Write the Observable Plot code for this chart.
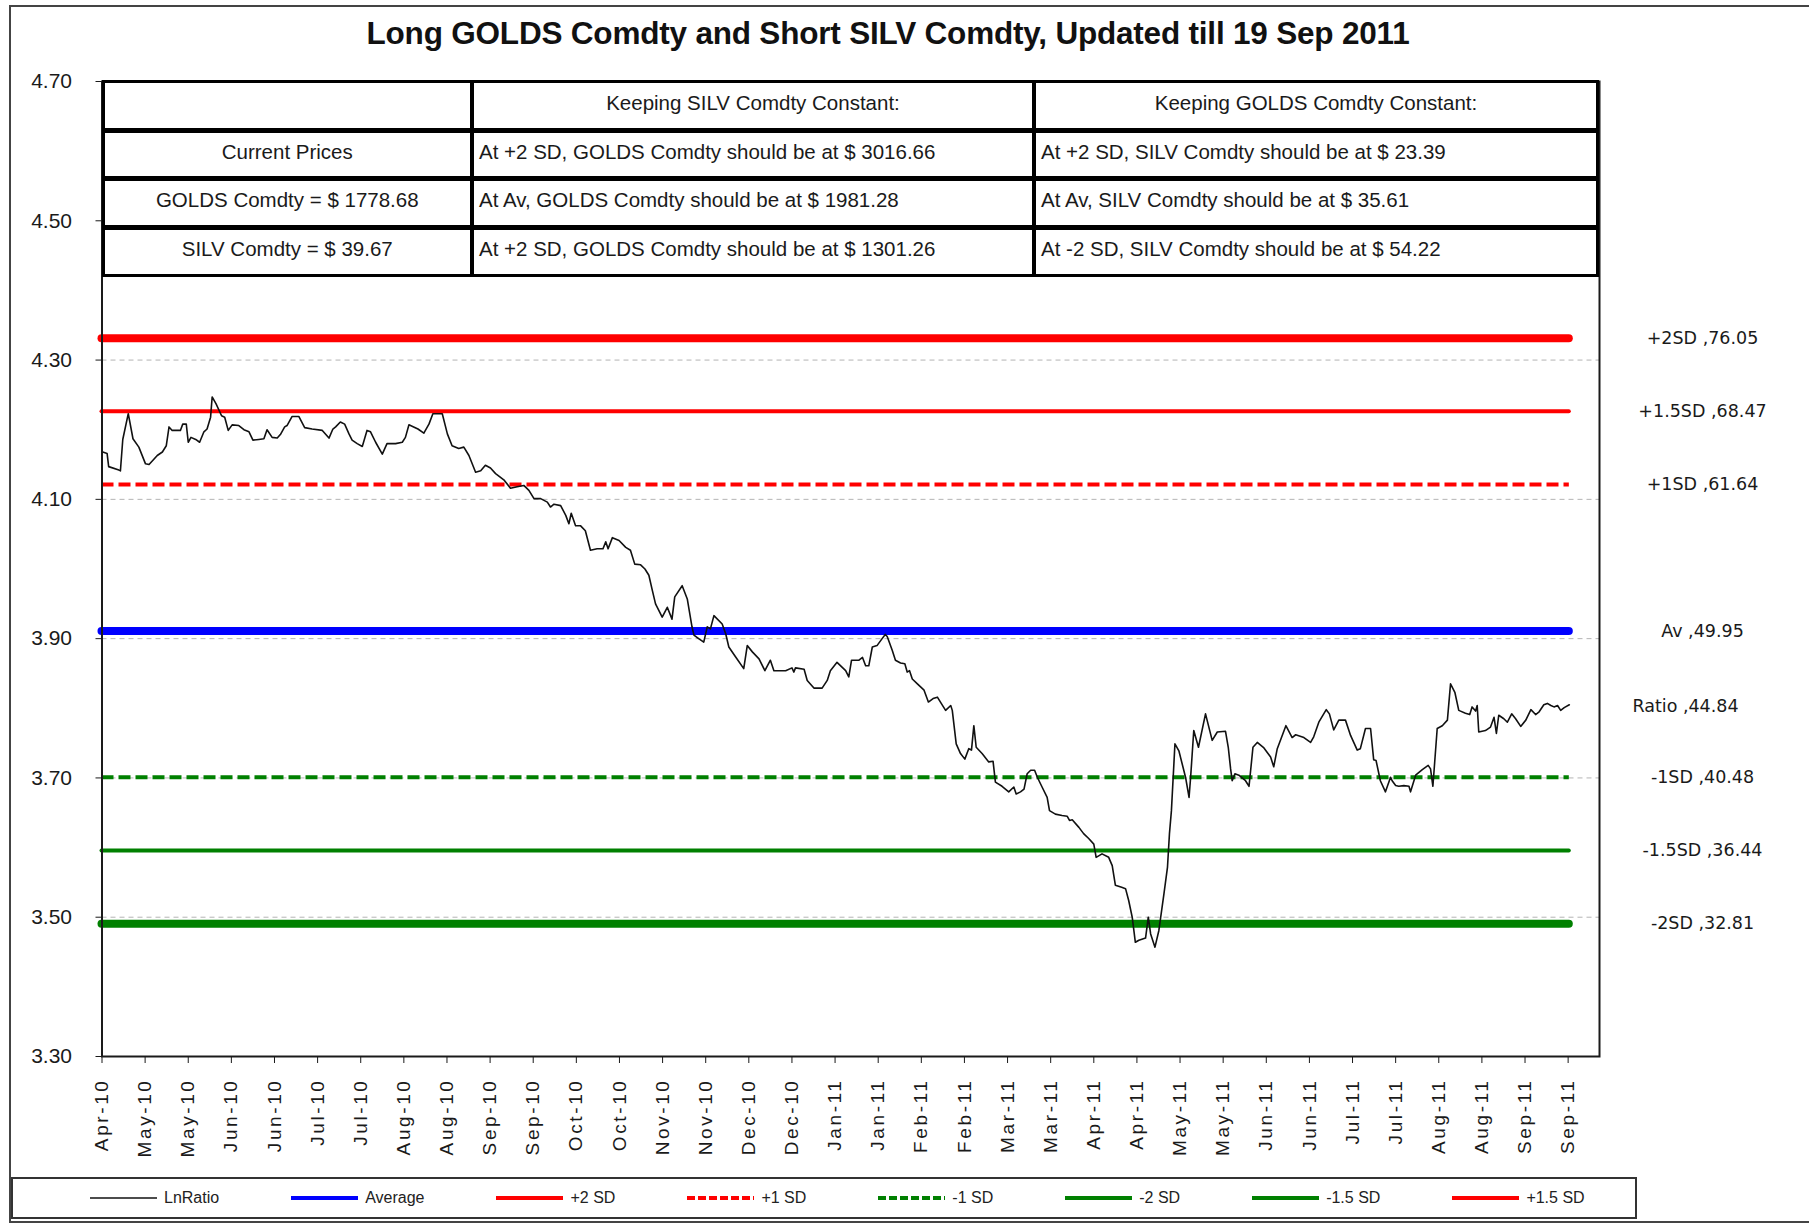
<!DOCTYPE html>
<html>
<head>
<meta charset="utf-8">
<script src="https://cdn.jsdelivr.net/npm/d3@7"></script>
<script src="https://cdn.jsdelivr.net/npm/@observablehq/plot@0.6"></script>
<style>
  body { margin: 0; background: #fff; }
  #wrap { position: relative; width: 1809px; height: 1225px; overflow: hidden; font-family: "Liberation Sans", Arial, sans-serif; color: #1a1a1a; }
  #frame { position: absolute; left: 9px; top: 5px; width: 1830px; height: 1218px; border: 2px solid #444; box-sizing: border-box; pointer-events: none; }
  #title { height: 60px; box-sizing: border-box; padding-top: 6px; line-height: 54px; padding-right: 33px; text-align: center; font-weight: bold; font-size: 31.5px; letter-spacing: -0.2px; color: #111; white-space: nowrap; }
  #chart svg { display: block; }
  #legend { position: relative; margin-left: 11px; margin-top: 7px; width: 1626px; height: 42px; border: 2px solid #333; box-sizing: border-box; display: flex; align-items: center; padding-left: 77px; gap: 72px; font-size: 16px; color: #222; }
  .litem { display: flex; align-items: center; gap: 7px; white-space: nowrap; }
  .cell { position: absolute; box-sizing: border-box; border: 3px solid #000; background: #fff; display: flex; align-items: center; font-size: 20.5px; color: #1a1a1a; white-space: nowrap; padding-bottom: 6px; }
  .cell.center { justify-content: center; }
  .cell.left { justify-content: flex-start; padding-left: 5px; }
</style>
</head>
<body>
<div id="wrap">
  <div id="title"></div>
  <div id="chart"></div>
  <div id="legend"></div>
  <div id="frame"></div>
</div>
<script>
// ---------- DATA ----------
const titleText = "Long GOLDS Comdty and Short SILV Comdty, Updated till 19 Sep 2011";

// [trading-day index, ln(GOLDS/SILV)]
const lnRatioPoints = [
[0.2,4.168],[1.3,4.166],[1.7,4.147],[4.3,4.142],[4.7,4.141],[5.3,4.186],[6.7,4.223],[7.9,4.187],[9.4,4.175],[11.1,4.151],
[12.0,4.150],[14.1,4.163],[15.4,4.168],[16.4,4.177],[17.1,4.204],[17.9,4.199],[20.0,4.199],[20.6,4.208],[21.5,4.208],[22.0,4.182],
[22.7,4.189],[23.9,4.186],[24.9,4.182],[26.0,4.197],[26.8,4.201],[27.7,4.218],[28.1,4.247],[29.1,4.237],[30.5,4.220],[31.3,4.218],
[32.2,4.199],[33.2,4.207],[34.9,4.206],[36.2,4.200],[37.5,4.197],[38.5,4.185],[40.0,4.186],[41.3,4.187],[42.1,4.200],[43.4,4.189],
[44.7,4.188],[45.5,4.193],[46.6,4.204],[47.2,4.206],[48.5,4.219],[50.2,4.219],[51.7,4.203],[53.6,4.201],[56.2,4.199],[57.9,4.188],
[58.9,4.201],[59.6,4.204],[60.8,4.211],[61.9,4.208],[63.0,4.194],[63.8,4.185],[65.1,4.180],[66.4,4.176],[67.6,4.199],[68.5,4.197],
[69.8,4.182],[71.5,4.165],[72.7,4.180],[74.9,4.180],[76.6,4.182],[77.4,4.189],[78.3,4.207],[79.5,4.204],[80.6,4.201],[82.1,4.195],
[83.4,4.208],[84.4,4.223],[85.9,4.223],[86.8,4.223],[88.1,4.194],[89.3,4.177],[91.0,4.173],[92.3,4.175],[93.6,4.163],[95.3,4.139],
[96.6,4.141],[97.8,4.149],[99.1,4.145],[100.4,4.137],[102.5,4.128],[104.2,4.116],[105.9,4.118],[107.6,4.120],[108.9,4.113],[110.2,4.101],
[111.9,4.101],[113.6,4.096],[114.4,4.089],[115.3,4.093],[117.0,4.091],[118.3,4.077],[119.1,4.065],[119.7,4.080],[120.8,4.062],[122.1,4.062],
[123.3,4.055],[124.6,4.027],[126.3,4.029],[127.8,4.029],[128.5,4.039],[129.1,4.029],[130.2,4.045],[131.9,4.041],[133.6,4.031],[134.8,4.027],
[135.9,4.007],[137.4,4.006],[138.5,4.000],[139.5,3.991],[140.4,3.969],[141.2,3.950],[142.9,3.931],[144.2,3.945],[145.4,3.928],[146.1,3.960],
[148.0,3.976],[149.3,3.957],[150.5,3.917],[151.0,3.905],[152.2,3.900],[153.5,3.895],[154.4,3.917],[155.2,3.914],[156.1,3.933],[158.2,3.921],
[159.1,3.907],[159.9,3.888],[161.6,3.874],[163.7,3.857],[164.6,3.890],[165.9,3.881],[167.6,3.871],[169.1,3.854],[170.5,3.869],[171.4,3.854],
[174.4,3.854],[176.0,3.858],[176.5,3.852],[176.9,3.858],[179.1,3.856],[179.9,3.840],[181.6,3.829],[183.7,3.829],[185.0,3.840],[185.8,3.854],
[187.5,3.866],[189.7,3.854],[190.5,3.845],[191.2,3.869],[193.1,3.869],[194.0,3.873],[194.8,3.861],[195.6,3.861],[196.5,3.888],[197.7,3.890],
[199.0,3.900],[199.8,3.906],[200.3,3.903],[201.6,3.883],[202.4,3.869],[203.7,3.865],[204.8,3.864],[205.4,3.852],[206.0,3.854],[206.7,3.842],
[208.0,3.835],[209.7,3.826],[210.8,3.809],[212.0,3.814],[213.1,3.816],[214.2,3.806],[215.2,3.797],[216.5,3.804],[216.9,3.797],[217.9,3.749],
[219.0,3.735],[220.1,3.727],[221.1,3.742],[221.8,3.740],[222.4,3.775],[223.0,3.744],[224.5,3.735],[226.2,3.723],[227.3,3.724],[227.9,3.694],
[229.6,3.688],[231.3,3.680],[232.6,3.687],[233.2,3.677],[234.3,3.680],[235.2,3.684],[236.0,3.706],[236.9,3.711],[237.9,3.711],[238.6,3.701],
[239.8,3.687],[241.1,3.672],[241.7,3.653],[243.2,3.648],[244.9,3.646],[246.2,3.645],[246.8,3.639],[247.5,3.640],[249.2,3.629],[250.4,3.620],
[251.7,3.613],[253.0,3.605],[253.6,3.586],[255.1,3.591],[256.8,3.586],[257.7,3.574],[258.5,3.546],[260.1,3.543],[261.1,3.541],[261.9,3.524],
[262.8,3.500],[263.6,3.464],[264.5,3.467],[266.2,3.470],[266.9,3.500],[267.5,3.476],[268.6,3.457],[269.6,3.481],[270.9,3.534],[271.8,3.572],
[272.3,3.620],[272.8,3.653],[273.7,3.749],[274.7,3.739],[276.4,3.701],[277.3,3.672],[277.7,3.701],[278.5,3.768],[279.7,3.744],[281.5,3.792],
[283.2,3.754],[284.5,3.766],[286.6,3.767],[287.3,3.744],[287.9,3.713],[288.3,3.696],[289.0,3.706],[290.0,3.704],[291.7,3.696],[292.6,3.688],
[293.6,3.744],[294.7,3.751],[296.4,3.743],[298.1,3.730],[298.9,3.716],[299.8,3.742],[302.0,3.775],[303.6,3.758],[304.5,3.762],[306.6,3.758],
[308.3,3.751],[309.1,3.759],[310.4,3.780],[312.3,3.798],[313.1,3.792],[314.2,3.769],[315.5,3.783],[317.2,3.783],[318.5,3.761],[320.2,3.740],
[321.0,3.742],[322.3,3.771],[323.6,3.771],[324.4,3.726],[325.0,3.725],[326.1,3.696],[327.4,3.680],[328.7,3.701],[329.1,3.696],[330.0,3.689],
[330.8,3.688],[332.1,3.689],[333.4,3.688],[333.8,3.680],[335.1,3.704],[336.8,3.712],[338.3,3.718],[338.9,3.713],[339.5,3.688],[340.6,3.771],
[341.9,3.775],[343.2,3.783],[344.0,3.835],[345.1,3.823],[346.1,3.797],[347.8,3.793],[348.9,3.791],[349.5,3.802],[350.4,3.796],[350.8,3.804],
[351.2,3.766],[352.9,3.768],[354.2,3.773],[355.1,3.787],[355.7,3.764],[356.3,3.790],[357.6,3.785],[358.5,3.780],[359.6,3.792],[360.6,3.785],
[361.9,3.774],[363.2,3.783],[364.5,3.798],[365.7,3.791],[366.6,3.795],[367.8,3.805],[368.7,3.807],[369.6,3.804],[370.4,3.802],[371.3,3.804],
[372.1,3.797],[373.0,3.801],[374.3,3.805]
];

// Band levels (ratio values; drawn at their natural log)
const levelNames  = ["+2SD", "+1.5SD", "+1SD", "Av", "-1SD", "-1.5SD", "-2SD"];
const levelValues = [76.05, 68.47, 61.64, 49.95, 40.48, 36.44, 32.81];
const ratioName = "Ratio";
const ratioValue = 44.84;

// Axis ticks
const yTicks = [3.30, 3.50, 3.70, 3.90, 4.10, 4.30, 4.50, 4.70];
const xTickLabels = ["Apr-10","May-10","May-10","Jun-10","Jun-10","Jul-10","Jul-10","Aug-10","Aug-10","Sep-10","Sep-10","Oct-10","Oct-10","Nov-10","Nov-10","Dec-10","Dec-10","Jan-11","Jan-11","Feb-11","Feb-11","Mar-11","Mar-11","Apr-11","Apr-11","May-11","May-11","Jun-11","Jun-11","Jul-11","Jul-11","Aug-11","Aug-11","Sep-11","Sep-11"];
const xTickEvery = 11; // trading days between category labels

// Table
const tableHeader = ["", "Keeping SILV Comdty Constant:", "Keeping GOLDS Comdty Constant:"];
const tableCurrent = ["Current Prices", "GOLDS Comdty =  $ 1778.68", "SILV Comdty =  $ 39.67"];
const tableSilvConst = ["At +2 SD, GOLDS Comdty should be at $ 3016.66", "At Av, GOLDS Comdty should be at $ 1981.28", "At +2 SD, GOLDS Comdty should be at $ 1301.26"];
const tableGoldConst = ["At +2 SD, SILV Comdty should be at $ 23.39", "At Av, SILV Comdty should be at $ 35.61", "At -2 SD, SILV Comdty should be at $ 54.22"];

// Legend
const legendNames = ["LnRatio", "Average", "+2 SD", "+1 SD", "-1 SD", "-2 SD", "-1.5 SD", "+1.5 SD"];
const legendKeys  = ["Ratio", "Av", "+2SD", "+1SD", "-1SD", "-2SD", "-1.5SD", "+1.5SD"];

// ---------- STYLES ----------
const RED = "#ff0000", BLUE = "#0000ff", GREEN = "#008000";
const styleOf = {
  "Ratio":  {stroke: "#111", strokeWidth: 1.6},
  "+2SD":   {stroke: RED, strokeWidth: 8, strokeLinecap: "round"},
  "+1.5SD": {stroke: RED, strokeWidth: 4, strokeLinecap: "round"},
  "+1SD":   {stroke: RED, strokeWidth: 4, strokeDasharray: "12,5"},
  "Av":     {stroke: BLUE, strokeWidth: 8, strokeLinecap: "round"},
  "-1SD":   {stroke: GREEN, strokeWidth: 4, strokeDasharray: "12,5"},
  "-1.5SD": {stroke: GREEN, strokeWidth: 4, strokeLinecap: "round"},
  "-2SD":   {stroke: GREEN, strokeWidth: 8, strokeLinecap: "round"}
};

// ---------- BUILD ----------
document.getElementById("title").textContent = titleText;

const series = lnRatioPoints.map(([day, v]) => ({day, v}));
const levels = levelNames.map((name, i) => ({name, value: levelValues[i]}));
const firstDay = Math.floor(d3.min(series, d => d.day));
const lastDay = d3.max(series, d => d.day);
const xTicks = xTickLabels.map((_, i) => i * xTickEvery);
const labelAt = new Map(xTicks.map((t, i) => [t, xTickLabels[i]]));

const levelRules = levels.map(l => Plot.ruleY([l], {
  y: d => Math.log(d.value), x1: firstDay, x2: lastDay, ...styleOf[l.name]
}));

const chart = Plot.plot({
  width: 1809,
  height: 1110,
  marginTop: 21,
  marginBottom: 114,
  marginLeft: 101.5,
  marginRight: 210,
  style: {fontFamily: '"Liberation Sans", Arial, sans-serif', color: "#1a1a1a", background: "transparent"},
  x: {domain: [0, 382]},
  y: {domain: [3.3, 4.7]},
  marks: [
    Plot.gridY(yTicks, {stroke: "#b4b4b4", strokeOpacity: 1, strokeWidth: 1, strokeDasharray: "5,4"}),
    ...levelRules,
    Plot.line(series, {x: "day", y: "v", ...styleOf["Ratio"]}),
    Plot.frame({stroke: "#1a1a1a", strokeWidth: 2}),
    Plot.text(levels, {
      y: d => Math.log(d.value), text: d => `${d.name} ,${d.value.toFixed(2)}`,
      frameAnchor: "right", dx: 103, textAnchor: "middle",
      fontFamily: '"DejaVu Sans", Verdana, sans-serif', fontSize: 17.5, fill: "#1a1a1a"
    }),
    Plot.text([{name: ratioName, value: ratioValue}], {
      y: d => Math.log(d.value), text: d => `${d.name} ,${d.value.toFixed(2)}`,
      frameAnchor: "right", dx: 86, textAnchor: "middle",
      fontFamily: '"DejaVu Sans", Verdana, sans-serif', fontSize: 17.5, fill: "#1a1a1a"
    }),
    Plot.axisY(yTicks, {tickFormat: d3.format(".2f"), tickSize: 6, tickPadding: 24, fontSize: 21, label: null}),
    Plot.axisX(xTicks, {tickFormat: d => labelAt.get(d), tickRotate: -90, tickSize: 7, tickPadding: 15, fontSize: 19, label: null})
  ]
});
d3.select(chart).selectAll('[aria-label="x-axis tick label"] text').attr("letter-spacing", "2.6px");
document.getElementById("chart").appendChild(chart);

// Table overlay on the top of the plot area
const colX = [101.5, 471, 1033, 1597];
const rowY = [80, 130, 178, 227, 276];
const wrap = document.getElementById("wrap");
const rows = [tableHeader].concat(tableCurrent.map((c, i) => [c, tableSilvConst[i], tableGoldConst[i]]));
rows.forEach((row, r) => {
  row.forEach((txt, c) => {
    const el = document.createElement("div");
    el.className = "cell " + ((r === 0 || c === 0) ? "center" : "left");
    el.style.left = colX[c] + "px";
    el.style.top = rowY[r] + "px";
    el.style.width = (colX[c + 1] - colX[c] + 2) + "px";
    el.style.height = (rowY[r + 1] - rowY[r] + 1) + "px";
    el.textContent = txt;
    wrap.appendChild(el);
  });
});

// Legend
const legend = d3.select("#legend");
legendNames.forEach((name, i) => {
  const s = styleOf[legendKeys[i]];
  const item = legend.append("div").attr("class", "litem");
  const svg = item.append("svg").attr("width", 67).attr("height", 10);
  svg.append("line").attr("x1", 0).attr("x2", 67).attr("y1", 5).attr("y2", 5)
    .attr("stroke", s.stroke)
    .attr("stroke-width", legendKeys[i] === "Ratio" ? 1.4 : 4)
    .attr("stroke-dasharray", s.strokeDasharray ? "8,3" : null);
  item.append("span").text(name);
});
</script>
</body>
</html>
